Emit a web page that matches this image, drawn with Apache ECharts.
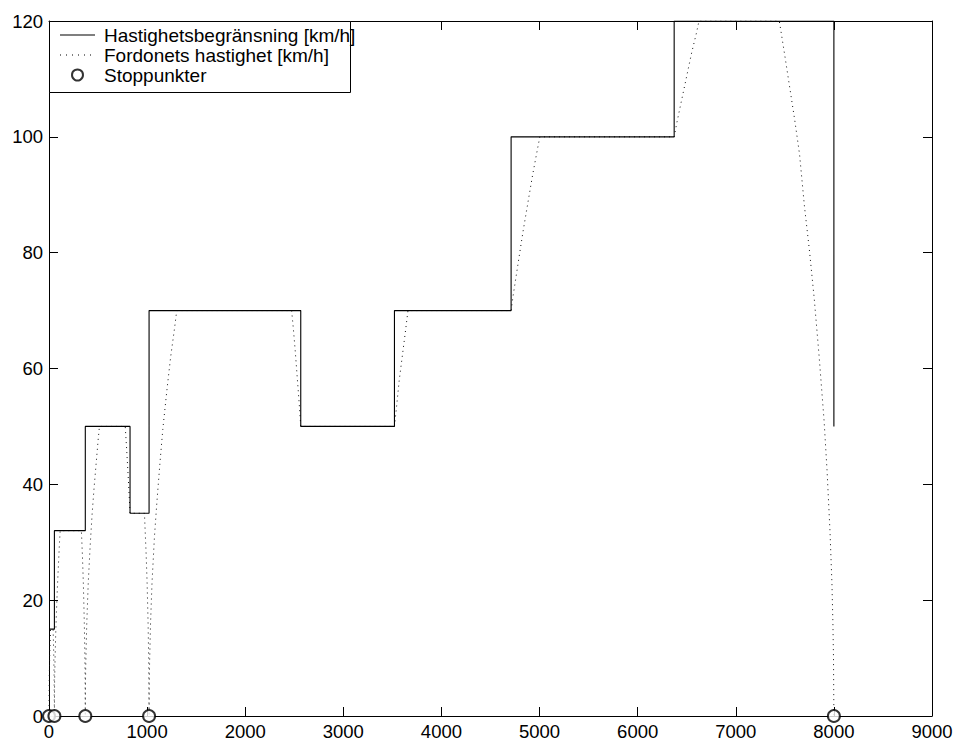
<!DOCTYPE html>
<html>
<head>
<meta charset="utf-8">
<script src="https://cdn.jsdelivr.net/npm/echarts@6/dist/echarts.min.js"></script>
<style>
html,body{margin:0;padding:0;background:#fff;}
#chart{width:957px;height:744px;}
</style>
</head>
<body>
<div id="chart"></div>
<script>
// Speed limit [distance m, km/h] (step line)
var limitX = [0, 55, 55, 370, 370, 826, 826, 1020, 1020, 2566, 2566, 3521, 3521, 4710, 4710, 6372, 6372, 8000, 8000];
var limitV = [15, 15, 32, 32, 50, 50, 35, 35, 70, 70, 50, 50, 70, 70, 100, 100, 120, 120, 50];

// Vehicle speed (dotted)
var vehX = [0, 3, 8, 15, 30, 42, 48, 52, 55,
  57, 62, 68, 76, 85, 96, 107, 114,
  330, 340, 350, 360, 365, 368, 370,
  372, 375, 385, 400, 420, 440, 460, 480, 500, 514,
  777, 790, 800, 810, 820, 826,
  973, 980, 990, 1000, 1010, 1016, 1020,
  1022, 1025, 1035, 1050, 1075, 1100, 1130, 1160, 1200, 1240, 1280, 1302,
  2473, 2490, 2510, 2530, 2550, 2566,
  3521, 3540, 3570, 3600, 3630, 3659,
  4710, 4730, 4780, 4830, 4880, 4930, 4980, 5003,
  6372, 6400, 6450, 6500, 6550, 6600, 6625,
  7444, 7500, 7550, 7600, 7650, 7700, 7750, 7800, 7850, 7900, 7930, 7960, 7980, 7990, 7996, 8000];
var vehV = [0, 7, 11, 15, 15, 15, 11, 7, 0,
  6, 10, 14, 18, 22, 26, 30, 32,
  32, 28, 23, 16, 11, 7, 0,
  6, 9, 16, 23, 29.5, 35, 39.5, 43.5, 47.5, 50,
  50, 46.5, 43.5, 40.5, 37, 35,
  35, 32, 28, 23, 16, 10, 0,
  6, 9, 16, 23, 31, 37, 43.5, 49.5, 56, 62, 67, 70,
  70, 67, 63, 58.5, 54, 50,
  50, 53, 58, 62, 66, 70,
  70, 72.5, 78, 83.5, 88.5, 93.5, 98, 100,
  100, 102.5, 106.5, 110.5, 114.5, 118, 120,
  120, 114, 108.5, 103, 97, 88, 80.5, 72, 62, 51, 42.5, 32, 23, 16, 10, 0];

// Stop points
var stopX = [0, 55, 370, 1020, 8000];
var stopV = [0, 0, 0, 0, 0];

// Tick settings
var xTicks = {min: 0, max: 9000, interval: 1000};
var yTicks = {min: 0, max: 120, interval: 20};

var seriesNames = ['Hastighetsbegränsning [km/h]', 'Fordonets hastighet [km/h]', 'Stoppunkter'];

function zip(a, b) { return a.map(function (v, i) { return [v, b[i]]; }); }

var chart = echarts.init(document.getElementById('chart'), null, {renderer: 'svg'});
var FONT = 'Liberation Sans, Arial, Helvetica, sans-serif';
function axisBase(pos, showLabel, rng) {
  return {
    type: 'value', position: pos, min: rng.min, max: rng.max, interval: rng.interval,
    axisLine: {show: true, onZero: false, lineStyle: {color: '#000', width: 1}},
    axisTick: {show: true, inside: true, length: 9, lineStyle: {color: '#000', width: 1}},
    axisLabel: {show: showLabel, color: '#000', fontSize: 18.5, fontFamily: FONT, margin: 6,
      formatter: function (v) { return String(v); }},
    splitLine: {show: false}
  };
}
// legend icons: thin solid bar, dotted bar
var solidIcon = 'path://M0,0H35V1H0Z';
var dotIcon = 'path://M0,0h1v1h-1zM6,0h1v1h-1zM12,0h1v1h-1zM18,0h1v1h-1zM24,0h1v1h-1zM30,0h1v1h-1zM35,0h0v1h0z';

var option = {
  animation: false,
  backgroundColor: '#fff',
  grid: {left: 49, right: 25, top: 21, bottom: 28, containLabel: false},
  xAxis: [axisBase('bottom', true, xTicks), axisBase('top', false, xTicks)],
  yAxis: [axisBase('left', true, yTicks), axisBase('right', false, yTicks)],
  graphic: [{
    type: 'rect', left: 49, top: 21, z: 50,
    shape: {width: 301, height: 71},
    style: {fill: '#fff', stroke: '#000', lineWidth: 1}
  }],
  legend: {
    show: true, orient: 'vertical', left: 60, top: 25, z: 60, padding: 0,
    itemWidth: 35, itemHeight: 11, itemGap: 0,
    textStyle: {color: '#000', fontSize: 19, fontFamily: FONT, lineHeight: 20, padding: [0, 0, 0, 4]},
    data: [
      {name: seriesNames[0], icon: solidIcon, itemStyle: {color: '#000', borderWidth: 0}},
      {name: seriesNames[1], icon: dotIcon, itemStyle: {color: '#000', borderWidth: 0}},
      {name: seriesNames[2], icon: 'emptyCircle', itemStyle: {color: '#000', borderColor: '#000', borderWidth: 1}}
    ]
  },
  series: [
    {
      name: seriesNames[0], type: 'line', data: zip(limitX, limitV),
      symbol: 'none', lineStyle: {color: '#000', width: 1.1, type: 'solid'},
      itemStyle: {color: '#000'}, z: 3
    },
    {
      name: seriesNames[1], type: 'line', data: zip(vehX, vehV),
      symbol: 'none', lineStyle: {color: '#111', width: 1, type: [1, 4]},
      itemStyle: {color: '#111'}, z: 2
    },
    {
      name: seriesNames[2], type: 'scatter', data: zip(stopX, stopV),
      symbol: 'emptyCircle', symbolSize: 12, clip: false,
      itemStyle: {color: '#000', borderColor: '#000', borderWidth: 1},
      z: 4
    }
  ]
};
chart.setOption(option);
</script>
</body>
</html>
